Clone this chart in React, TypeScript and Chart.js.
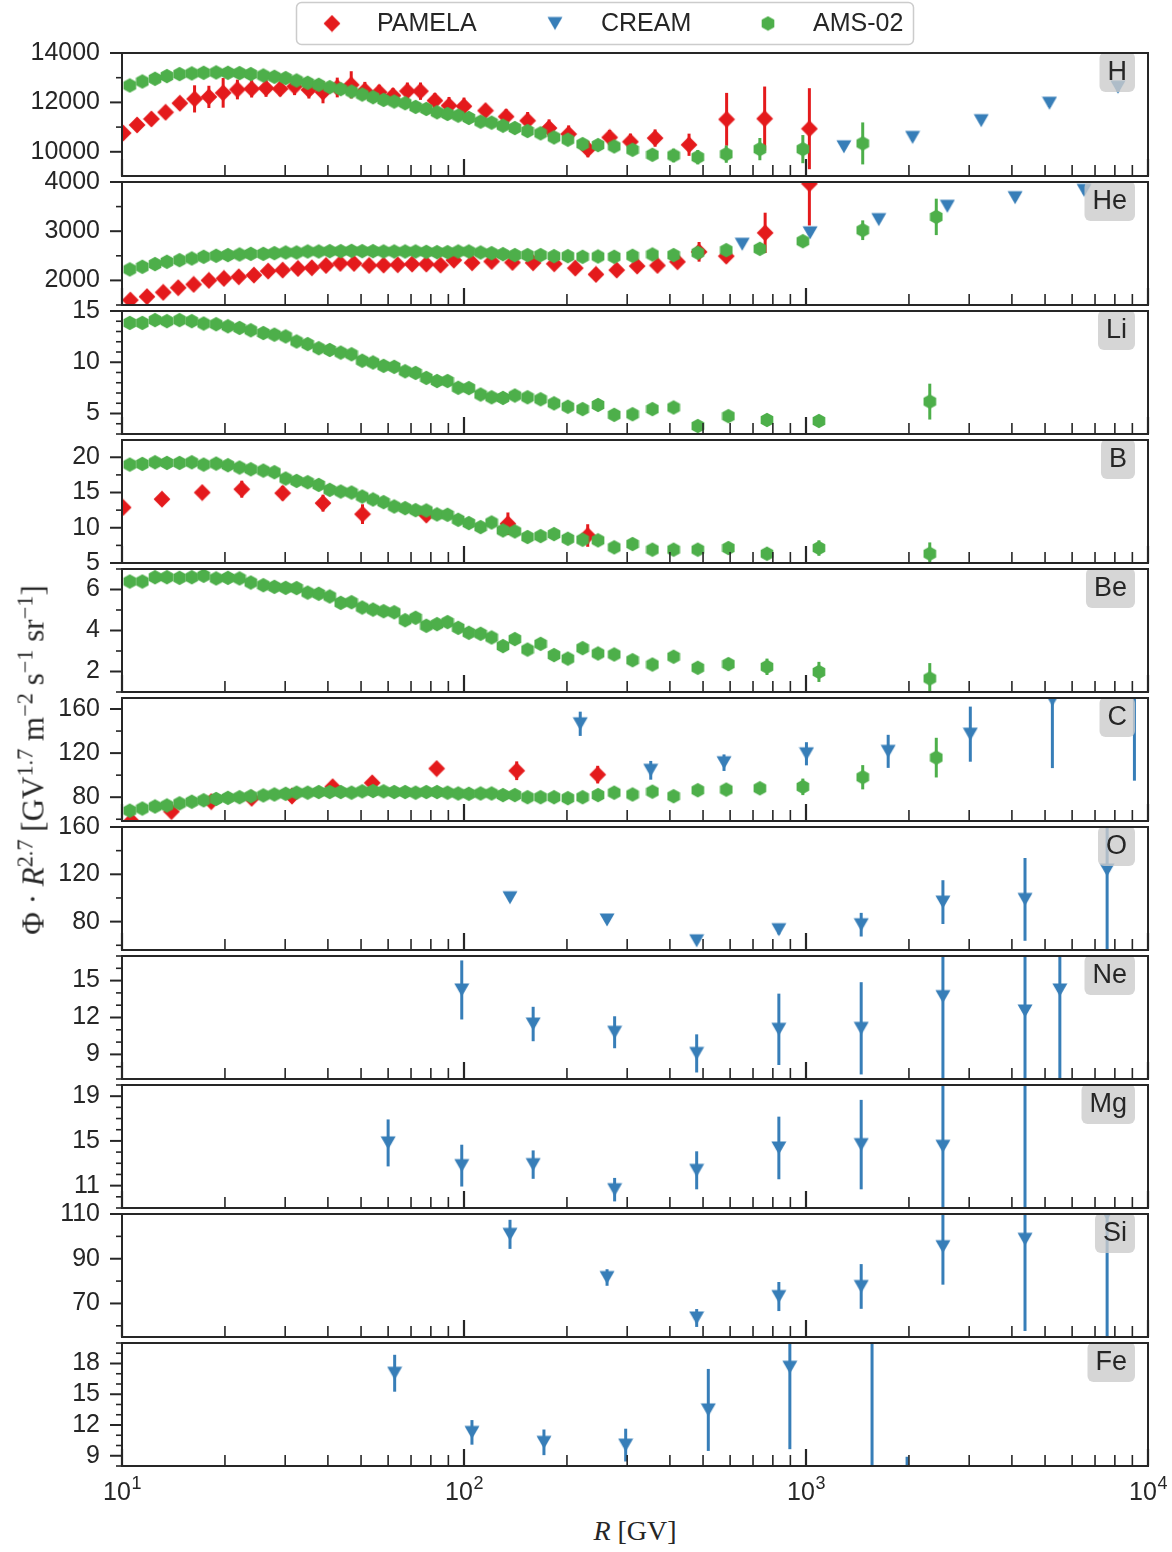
import React, { useEffect, useRef } from 'react';
import { Chart, registerables } from 'chart.js';

Chart.register(...registerables);

// ---------------- data ----------------
// rigidity grids (GV)
const AMS_R_P = [10.54, 11.47, 12.49, 13.53, 14.73, 16.0, 17.33, 18.85, 20.4, 22.06, 23.8, 25.9, 27.9, 30.1, 32.4, 34.9, 37.6, 40.5, 43.6, 46.9, 50.4, 54.2, 58.2, 62.5, 67.3, 72.2, 77.6, 83.4, 89.5, 96.2, 103.3, 111.8, 120.4, 130, 140.8, 153.4, 167.5, 183.3, 201.2, 222.2, 246.6, 274.9, 311, 355.6, 410, 482.6, 584.6, 733, 979, 1465];
const AMS_R_HE = [10.54, 11.47, 12.49, 13.53, 14.73, 16.0, 17.33, 18.85, 20.4, 22.06, 23.8, 25.9, 27.9, 30.1, 32.4, 34.9, 37.6, 40.5, 43.6, 46.9, 50.4, 54.2, 58.2, 62.5, 67.3, 72.2, 77.6, 83.4, 89.5, 96.2, 103.3, 111.8, 120.4, 130, 140.8, 153.4, 167.5, 183.3, 201.2, 222.2, 246.6, 274.9, 311, 355.6, 410, 482.6, 584.6, 733, 979, 1465, 2404];
const AMS_R_NUC = [10.54, 11.47, 12.49, 13.53, 14.73, 16.0, 17.33, 18.85, 20.4, 22.06, 23.8, 25.9, 27.9, 30.1, 32.4, 34.9, 37.6, 40.5, 43.6, 46.9, 50.4, 54.2, 58.2, 62.5, 67.3, 72.2, 77.6, 83.4, 89.5, 96.2, 103.3, 111.8, 120.4, 130, 140.8, 153.4, 167.5, 183.3, 201.2, 222.2, 246.6, 274.9, 311, 355.6, 410, 482.6, 593, 769, 1091, 2301];

// H
const H_AMS = [12685, 12847, 12956, 13064, 13146, 13173, 13200, 13214, 13200, 13186, 13146, 13091, 13037, 12983, 12888, 12793, 12712, 12617, 12535, 12440, 12318, 12210, 12102, 12034, 11966, 11817, 11735, 11600, 11532, 11464, 11369, 11220, 11180, 11057, 10962, 10840, 10746, 10583, 10488, 10312, 10271, 10217, 10081, 9878, 9851, 9783, 9905, 10108, 10108, 10339];
const H_AMS_ERR = [60, 60, 60, 60, 60, 60, 60, 60, 60, 60, 60, 60, 60, 60, 60, 60, 60, 60, 60, 60, 60, 60, 60, 60, 60, 60, 60, 60, 60, 60, 70, 70, 70, 80, 80, 80, 90, 90, 100, 100, 110, 120, 130, 150, 270, 290, 350, 450, 570, 850];
const H_PAM_R = [10.08, 11.07, 12.19, 13.41, 14.76, 16.3, 17.95, 19.76, 21.75, 23.94, 26.37, 29.0, 31.96, 35.2, 38.7, 42.6, 46.8, 51.3, 56.5, 62.0, 68.3, 74.6, 82.2, 90.4, 100, 115.6, 132.8, 153.5, 177.3, 202.3, 230.3, 266.6, 306.6, 362, 455, 586, 757, 1023];
const H_PAM = [10759, 11085, 11329, 11600, 11966, 12142, 12224, 12386, 12522, 12549, 12576, 12549, 12644, 12508, 12413, 12603, 12712, 12481, 12413, 12278, 12454, 12454, 12074, 11871, 11844, 11668, 11424, 11261, 10962, 10718, 10108, 10583, 10407, 10556, 10285, 11315, 11342, 10935];
const H_PAM_ERR = [150, 180, 200, 250, 250, 550, 450, 600, 400, 350, 350, 300, 350, 350, 450, 400, 550, 350, 300, 300, 350, 350, 300, 350, 350, 250, 300, 350, 350, 350, 330, 300, 330, 350, 450, 1070, 1300, 1640];
const H_CREAM_R = [1291, 2050, 3253, 5150, 8170];
const H_CREAM = [10203, 10583, 11261, 11966, 12617];
const H_CREAM_ERR = [100, 150, 100, 150, 200];

// He
const HE_AMS = [2223, 2277, 2331, 2378, 2412, 2446, 2480, 2500, 2514, 2527, 2540, 2540, 2554, 2568, 2568, 2588, 2588, 2595, 2595, 2601, 2595, 2595, 2588, 2588, 2588, 2588, 2581, 2574, 2574, 2588, 2588, 2568, 2554, 2534, 2514, 2514, 2514, 2493, 2493, 2480, 2486, 2480, 2500, 2527, 2514, 2561, 2615, 2642, 2797, 3020, 3291];
const HE_AMS_ERR = [15, 15, 15, 15, 15, 15, 15, 15, 15, 15, 15, 15, 15, 15, 15, 15, 15, 15, 15, 15, 15, 15, 15, 15, 15, 15, 15, 15, 15, 15, 15, 15, 15, 15, 15, 15, 15, 15, 15, 15, 15, 15, 15, 15, 25, 30, 40, 50, 70, 200, 370];
const HE_PAM_R = [10.58, 11.83, 13.2, 14.6, 16.2, 17.95, 19.86, 21.95, 24.3, 26.75, 29.5, 32.7, 35.9, 39.5, 43.5, 47.7, 52.8, 58.2, 64, 70.5, 77.6, 85.4, 93.4, 105.6, 120.4, 138.6, 159.2, 183.6, 211.5, 243.1, 279.6, 320.9, 367.8, 420.9, 486.8, 584.6, 759.5, 1023];
const HE_PAM = [1600, 1669, 1757, 1851, 1919, 2000, 2040, 2074, 2108, 2189, 2209, 2243, 2257, 2304, 2345, 2345, 2304, 2311, 2318, 2331, 2331, 2311, 2412, 2358, 2385, 2365, 2358, 2338, 2250, 2122, 2209, 2291, 2304, 2378, 2581, 2493, 2966, 3966];
const HE_PAM_ERR = [30, 30, 30, 30, 30, 30, 30, 30, 30, 30, 30, 30, 30, 30, 30, 30, 30, 30, 30, 30, 30, 30, 30, 30, 30, 30, 30, 30, 40, 45, 50, 55, 60, 70, 200, 130, 410, 850];
const HE_CREAM_R = [651, 1028, 1632, 2590, 4087, 6503];
const HE_CREAM = [2736, 2966, 3236, 3507, 3682, 3831];
const HE_CREAM_ERR = [40, 40, 40, 50, 60, 80];

// Li
const LI_AMS = [13.84, 13.84, 14.11, 14.01, 14.11, 14.01, 13.78, 13.71, 13.51, 13.35, 13.12, 12.85, 12.69, 12.52, 12.03, 11.77, 11.37, 11.2, 10.94, 10.78, 10.15, 9.98, 9.65, 9.55, 9.12, 8.96, 8.47, 8.17, 8.17, 7.51, 7.48, 6.85, 6.58, 6.52, 6.75, 6.58, 6.39, 5.99, 5.66, 5.43, 5.83, 4.87, 4.93, 5.43, 5.59, 3.78, 4.74, 4.37, 4.27, 6.16];
const LI_AMS_ERR = [0.1, 0.1, 0.1, 0.1, 0.1, 0.1, 0.1, 0.1, 0.1, 0.1, 0.1, 0.1, 0.1, 0.1, 0.1, 0.1, 0.1, 0.1, 0.1, 0.1, 0.1, 0.1, 0.1, 0.1, 0.1, 0.1, 0.1, 0.1, 0.1, 0.1, 0.1, 0.1, 0.1, 0.1, 0.1, 0.1, 0.1, 0.1, 0.1, 0.1, 0.1, 0.1, 0.1, 0.1, 0.1, 0.15, 0.2, 0.25, 0.3, 1.75];

// B
const B_AMS = [18.96, 19.06, 19.29, 19.2, 19.2, 19.29, 18.96, 19.1, 18.87, 18.54, 18.3, 18.11, 17.88, 16.98, 16.65, 16.46, 16.08, 15.38, 15.14, 15.0, 14.43, 14.01, 13.63, 13.02, 12.78, 12.5, 12.45, 11.89, 11.84, 11.13, 10.66, 10.09, 10.75, 9.62, 9.48, 8.68, 8.82, 9.1, 8.44, 8.3, 8.21, 7.22, 7.69, 6.89, 6.89, 6.89, 7.12, 6.32, 7.12, 6.32];
const B_AMS_ERR = [0.15, 0.15, 0.15, 0.15, 0.15, 0.15, 0.15, 0.15, 0.15, 0.15, 0.15, 0.15, 0.15, 0.15, 0.15, 0.15, 0.15, 0.15, 0.15, 0.15, 0.15, 0.15, 0.15, 0.15, 0.15, 0.15, 0.15, 0.15, 0.15, 0.15, 0.15, 0.15, 0.15, 0.15, 0.15, 0.15, 0.15, 0.15, 0.15, 0.15, 0.15, 0.15, 0.15, 0.2, 0.2, 0.25, 0.3, 0.4, 1.1, 1.6];
const B_PAM_R = [10.08, 13.09, 17.16, 22.4, 29.5, 38.7, 50.5, 77.6, 134.4, 230];
const B_PAM = [12.88, 14.06, 15.0, 15.47, 14.91, 13.49, 11.93, 11.8, 10.57, 8.9];
const B_PAM_ERR = [0.6, 0.5, 0.7, 1.2, 1.0, 1.2, 1.4, 0.5, 1.6, 1.6];

// Be
const BE_AMS = [6.39, 6.39, 6.6, 6.6, 6.57, 6.6, 6.67, 6.54, 6.57, 6.54, 6.34, 6.21, 6.13, 6.08, 6.07, 5.85, 5.79, 5.66, 5.35, 5.38, 5.12, 5.02, 4.94, 4.89, 4.5, 4.62, 4.23, 4.31, 4.41, 4.13, 3.89, 3.84, 3.66, 3.24, 3.58, 3.07, 3.35, 2.8, 2.63, 3.14, 2.88, 2.83, 2.55, 2.34, 2.72, 2.18, 2.36, 2.23, 1.98, 1.66];
const BE_AMS_ERR = [0.05, 0.05, 0.05, 0.05, 0.05, 0.05, 0.05, 0.05, 0.05, 0.05, 0.05, 0.05, 0.05, 0.05, 0.05, 0.05, 0.05, 0.05, 0.05, 0.05, 0.05, 0.05, 0.05, 0.05, 0.05, 0.05, 0.05, 0.05, 0.05, 0.05, 0.05, 0.05, 0.05, 0.05, 0.05, 0.05, 0.05, 0.05, 0.05, 0.05, 0.05, 0.05, 0.05, 0.05, 0.05, 0.1, 0.3, 0.4, 0.49, 0.75];

// C
const C_AMS = [67.8, 69.7, 71.6, 72.5, 74.4, 75.9, 77.2, 78.4, 79.4, 80, 80.9, 81.6, 82.5, 83.1, 84.1, 84.1, 84.7, 84.7, 84.7, 84.1, 85.3, 85.6, 85.3, 84.7, 84.7, 84.1, 84.7, 84.7, 84.1, 83.4, 83.1, 83.4, 83.4, 81.9, 81.9, 80, 80, 80, 79.1, 80, 81.9, 84.1, 82.5, 85, 80.9, 86.3, 86.9, 88.1, 89.4, 98.1, 115.9];
const C_AMS_ERR = [1, 1, 1, 1, 1, 1, 1, 1, 1, 1, 1, 1, 1, 1, 1, 1, 1, 1, 1, 1, 1, 1, 1, 1, 1, 1, 1, 1, 1, 1, 1, 1, 1, 1, 1, 1, 1, 1, 1, 1, 1, 1, 1, 1.5, 2, 2, 3, 4, 7.5, 11, 18];
const C_PAM_R = [10.65, 13.95, 18.24, 23.94, 31.4, 41.3, 53.9, 83.2, 142.6, 246];
const C_PAM = [58.5, 67, 76, 79, 81, 89.5, 93, 106, 104, 100.5];
const C_PAM_ERR = [3, 3, 3, 3, 3, 3, 4, 4, 8.5, 8];
const C_CREAM_R = [218.7, 351.6, 575.8, 1003, 1739, 3023, 5253, 9127];
const C_CREAM = [146.6, 104.4, 111.3, 119.4, 121.6, 137.2, 168.4, 180];
const C_CREAM_ERR = [11, 8.5, 7.5, 10.5, 15, 25, 62, 85];

// O / Si (CREAM)
const CREAM_R_OSI = [136.3, 262, 479, 833, 1450, 2514, 4369, 7594];
const O_CREAM = [100.2, 81.4, 63.8, 73.2, 77.4, 96.5, 98.8, 123.6];
const O_CREAM_ERR = [3, 2, 2, 4, 10, 18.5, 35, 70];
const SI_CREAM = [100.9, 81.6, 63.5, 73.1, 77.6, 95.4, 98.7, 110];
const SI_CREAM_ERR = [6.5, 3.7, 4, 6.5, 10, 17, 41, 58];

// Ne
const NE_CREAM_R = [98.5, 159.3, 275.7, 479, 833, 1450, 2514, 4369, 5524];
const NE_CREAM = [14.24, 11.47, 10.8, 9.08, 11.04, 11.12, 13.7, 12.53, 14.24];
const NE_CREAM_ERR = [2.4, 1.4, 1.3, 1.55, 2.9, 3.75, 7, 7.5, 7.5];

// Mg
const MG_CREAM_R = [60, 98.5, 159.3, 275.7, 479, 833, 1450, 2514, 4369];
const MG_CREAM = [14.82, 12.79, 12.88, 10.64, 12.37, 14.37, 14.67, 14.52, 21.5];
const MG_CREAM_ERR = [2.1, 1.87, 1.27, 1.05, 1.7, 2.8, 4, 5.5, 13];

// Fe
const FE_CREAM_R = [62.7, 105.5, 171.3, 297, 518, 897, 1560, 1975];
const FE_CREAM = [17.05, 11.28, 10.31, 10.04, 13.47, 17.64, 23, 6];
const FE_CREAM_ERR = [1.8, 1.2, 1.25, 1.6, 4, 8, 15, 2.9];

// axis ticks
const X_TICKS = [10, 20, 30, 40, 50, 60, 70, 80, 90, 100, 200, 300, 400, 500, 600, 700, 800, 900, 1000, 2000, 3000, 4000, 5000, 6000, 7000, 8000, 9000, 10000];
const DECADES = [10, 100, 1000, 10000];
const DECADE_BASE = '10';
const DECADE_EXPONENTS = ['1', '2', '3', '4'];
const LEGEND_LABELS = ['PAMELA', 'CREAM', 'AMS-02'];

// ---------------- styles / layout ----------------
const RED = '#e41a1c';
const BLUE = '#377eb8';
const GREEN = '#4daf4a';
const INK = '#262626';
const SANS = '"Liberation Sans", Arial, Helvetica, sans-serif';
const SERIF = '"Liberation Serif", "DejaVu Serif", "Times New Roman", serif';

const FIG_W = 1172;
const FIG_H = 1552;
const PLOT_LEFT = 122;
const PLOT_RIGHT = 1148;
const PANEL_TOPS = [53, 182, 311, 440, 569, 698, 827, 956, 1085, 1214, 1343];
const PANEL_H = 123;
const PAD = 24;
const XAXIS_H = 44;

type Src = 'PAMELA' | 'CREAM' | 'AMS-02';
type Series = { src: Src; r: number[]; v: number[]; e: number[] };
type PanelCfg = { name: string; min: number; max: number; major: number[]; minor: number[]; series: Series[] };

const PANELS: PanelCfg[] = [
  { name: 'H', min: 9020, max: 14000, major: [10000, 12000, 14000], minor: [11000, 13000], series: [
    { src: 'PAMELA', r: H_PAM_R, v: H_PAM, e: H_PAM_ERR },
    { src: 'CREAM', r: H_CREAM_R, v: H_CREAM, e: H_CREAM_ERR },
    { src: 'AMS-02', r: AMS_R_P, v: H_AMS, e: H_AMS_ERR },
  ] },
  { name: 'He', min: 1500, max: 4000, major: [2000, 3000, 4000], minor: [1500, 2500, 3500], series: [
    { src: 'PAMELA', r: HE_PAM_R, v: HE_PAM, e: HE_PAM_ERR },
    { src: 'CREAM', r: HE_CREAM_R, v: HE_CREAM, e: HE_CREAM_ERR },
    { src: 'AMS-02', r: AMS_R_HE, v: HE_AMS, e: HE_AMS_ERR },
  ] },
  { name: 'Li', min: 3, max: 15, major: [5, 10, 15], minor: [3, 4, 6, 7, 8, 9, 11, 12, 13, 14], series: [
    { src: 'AMS-02', r: AMS_R_NUC, v: LI_AMS, e: LI_AMS_ERR },
  ] },
  { name: 'B', min: 5, max: 22.45, major: [5, 10, 15, 20], minor: [7.5, 12.5, 17.5], series: [
    { src: 'PAMELA', r: B_PAM_R, v: B_PAM, e: B_PAM_ERR },
    { src: 'AMS-02', r: AMS_R_NUC, v: B_AMS, e: B_AMS_ERR },
  ] },
  { name: 'Be', min: 1, max: 7, major: [2, 4, 6], minor: [1, 3, 5, 7], series: [
    { src: 'AMS-02', r: AMS_R_NUC, v: BE_AMS, e: BE_AMS_ERR },
  ] },
  { name: 'C', min: 58.4, max: 170, major: [80, 120, 160], minor: [60, 100, 140], series: [
    { src: 'PAMELA', r: C_PAM_R, v: C_PAM, e: C_PAM_ERR },
    { src: 'CREAM', r: C_CREAM_R, v: C_CREAM, e: C_CREAM_ERR },
    { src: 'AMS-02', r: AMS_R_HE, v: C_AMS, e: C_AMS_ERR },
  ] },
  { name: 'O', min: 56, max: 160, major: [80, 120, 160], minor: [60, 100, 140], series: [
    { src: 'CREAM', r: CREAM_R_OSI, v: O_CREAM, e: O_CREAM_ERR },
  ] },
  { name: 'Ne', min: 7, max: 17, major: [9, 12, 15], minor: [7, 8, 10, 11, 13, 14, 16, 17], series: [
    { src: 'CREAM', r: NE_CREAM_R, v: NE_CREAM, e: NE_CREAM_ERR },
  ] },
  { name: 'Mg', min: 9, max: 20, major: [11, 15, 19], minor: [9, 10, 12, 13, 14, 16, 17, 18, 20], series: [
    { src: 'CREAM', r: MG_CREAM_R, v: MG_CREAM, e: MG_CREAM_ERR },
  ] },
  { name: 'Si', min: 55, max: 110, major: [70, 90, 110], minor: [60, 80, 100], series: [
    { src: 'CREAM', r: CREAM_R_OSI, v: SI_CREAM, e: SI_CREAM_ERR },
  ] },
  { name: 'Fe', min: 8, max: 20, major: [9, 12, 15, 18], minor: [8, 10, 11, 13, 14, 16, 17, 19, 20], series: [
    { src: 'CREAM', r: FE_CREAM_R, v: FE_CREAM, e: FE_CREAM_ERR },
  ] },
];

const SOURCES: Record<Src, { color: string; marker: 'D' | 'v' | 'h'; order: number }> = {
  'PAMELA': { color: RED, marker: 'D', order: 2 },
  'CREAM': { color: BLUE, marker: 'v', order: 1 },
  'AMS-02': { color: GREEN, marker: 'h', order: 0 },
};

// ---------------- markers ----------------
let markerCache: Record<string, HTMLCanvasElement> | null = null;
function getMarkers() {
  if (markerCache) return markerCache;
  const make = (w: number, h: number, color: string, draw: (c: CanvasRenderingContext2D) => void) => {
    const cv = document.createElement('canvas');
    cv.width = w; cv.height = h;
    const c = cv.getContext('2d')!;
    c.fillStyle = color;
    c.beginPath();
    draw(c);
    c.closePath();
    c.fill();
    return cv;
  };
  const D = make(18, 18, RED, (c) => { c.moveTo(9, 0.6); c.lineTo(17.4, 9); c.lineTo(9, 17.4); c.lineTo(0.6, 9); });
  const v = make(16, 16, BLUE, (c) => { c.moveTo(0.5, 1.5); c.lineTo(15.5, 1.5); c.lineTo(8, 14.5); });
  const h = make(14, 16, GREEN, (c) => {
    const r = 7.3;
    for (let k = 0; k < 6; k++) {
      const a = Math.PI / 2 + k * Math.PI / 3;
      const px = 7 + r * Math.cos(a), py = 8 - r * Math.sin(a);
      if (k === 0) c.moveTo(px, py); else c.lineTo(px, py);
    }
  });
  markerCache = { D, v, h };
  return markerCache;
}

// ---------------- plugins ----------------
const errorBarPlugin = {
  id: 'errorBars',
  beforeDatasetDraw(chart: any, args: any) {
    const ds = chart.data.datasets[args.index];
    if (!ds.errors) return;
    const ca = chart.chartArea;
    const ys = chart.scales.y;
    const ctx = chart.ctx as CanvasRenderingContext2D;
    ctx.save();
    ctx.beginPath();
    ctx.rect(ca.left, ca.top, ca.right - ca.left, ca.bottom - ca.top);
    ctx.clip();
    ctx.strokeStyle = ds.errorColor;
    ctx.lineWidth = 3;
    args.meta.data.forEach((pt: any, i: number) => {
      const d = ds.data[i];
      const e = ds.errors[i];
      ctx.beginPath();
      ctx.moveTo(pt.x, ys.getPixelForValue(d.y - e));
      ctx.lineTo(pt.x, ys.getPixelForValue(d.y + e));
      ctx.stroke();
    });
    ctx.restore();
  },
};

function makeFramePlugin(cfg: PanelCfg, isBottom: boolean) {
  return {
    id: 'frame',
    afterDatasetsDraw(chart: any) {
      const ctx = chart.ctx as CanvasRenderingContext2D;
      const ca = chart.chartArea;
      const xs = chart.scales.x;
      const ys = chart.scales.y;
      ctx.save();
      // element label box
      ctx.font = `27px ${SANS}`;
      const tw = ctx.measureText(cfg.name).width;
      const bw = tw + 16, bh = 40;
      const bx = ca.right - 13 - bw, by = ca.top - 1;
      ctx.fillStyle = 'rgba(204,204,204,0.8)';
      ctx.beginPath();
      (ctx as any).roundRect(bx, by, bw, bh, 6);
      ctx.fill();
      ctx.fillStyle = INK;
      ctx.textAlign = 'center';
      ctx.textBaseline = 'middle';
      ctx.fillText(cfg.name, bx + bw / 2, by + bh / 2 + 1);
      // ticks
      ctx.strokeStyle = INK;
      xs.ticks.forEach((t: any) => {
        const px = xs.getPixelForValue(t.value);
        const big = DECADES.includes(t.value);
        ctx.lineWidth = big ? 2.2 : 1.6;
        ctx.beginPath();
        ctx.moveTo(px, ca.bottom);
        ctx.lineTo(px, ca.bottom - (big ? 17 : 11));
        ctx.stroke();
      });
      ys.ticks.forEach((t: any) => {
        const py = ys.getPixelForValue(t.value);
        const big = cfg.major.includes(t.value);
        ctx.lineWidth = big ? 2 : 1.6;
        ctx.beginPath();
        ctx.moveTo(ca.left, py);
        ctx.lineTo(ca.left - (big ? 12 : 6), py);
        ctx.stroke();
      });
      ctx.lineWidth = 2;
      ctx.strokeRect(ca.left, ca.top, ca.right - ca.left, ca.bottom - ca.top);
      // decade labels with superscript exponents (bottom panel only)
      if (isBottom) {
        ctx.fillStyle = INK;
        ctx.textAlign = 'left';
        ctx.textBaseline = 'alphabetic';
        DECADES.forEach((d, k) => {
          const px = xs.getPixelForValue(d);
          ctx.font = `25px ${SANS}`;
          const wb = ctx.measureText(DECADE_BASE).width;
          ctx.font = `18px ${SANS}`;
          const we = ctx.measureText(DECADE_EXPONENTS[k]).width;
          const x0 = px - (wb + we) / 2;
          ctx.font = `25px ${SANS}`;
          ctx.fillText(DECADE_BASE, x0, ca.bottom + 34);
          ctx.font = `18px ${SANS}`;
          ctx.fillText(DECADE_EXPONENTS[k], x0 + wb + 0.5, ca.bottom + 22.5);
        });
      }
      ctx.restore();
    },
  };
}

const legendPlugin = {
  id: 'figLegend',
  afterDraw(chart: any) {
    const ctx = chart.ctx as CanvasRenderingContext2D;
    const mx = [332, 555, 768];
    const tx = [377, 601, 813];
    ctx.save();
    ctx.beginPath();
    (ctx as any).roundRect(296.5, 2.5, 617, 42, 5);
    ctx.fillStyle = 'rgba(255,255,255,0.8)';
    ctx.fill();
    ctx.strokeStyle = '#cccccc';
    ctx.lineWidth = 1.5;
    ctx.stroke();
    ctx.font = `25px ${SANS}`;
    ctx.textBaseline = 'middle';
    ctx.textAlign = 'left';
    LEGEND_LABELS.forEach((lab, i) => {
      const ds = chart.data.datasets.find((d: any) => d.label === lab);
      if (!ds) return;
      const img = ds.pointStyle as HTMLCanvasElement;
      ctx.drawImage(img, mx[i] - img.width / 2, 23.5 - img.height / 2);
      ctx.fillStyle = INK;
      ctx.fillText(lab, tx[i], 24.5);
    });
    ctx.restore();
  },
};

// ---------------- components ----------------
function Panel({ cfg, index }: { cfg: PanelCfg; index: number }) {
  const ref = useRef<HTMLCanvasElement>(null);
  const isTop = index === 0;
  const isBottom = index === PANELS.length - 1;
  const padT = isTop ? PANEL_TOPS[0] : PAD;
  const padB = isBottom ? 4 : PAD;
  const canvasTop = PANEL_TOPS[index] - padT;
  const canvasH = padT + PANEL_H + padB + (isBottom ? XAXIS_H : 0);

  useEffect(() => {
    const mk = getMarkers();
    const datasets = cfg.series.map((s) => {
      const st = SOURCES[s.src];
      return {
        label: s.src,
        data: s.r.map((r, i) => ({ x: r, y: s.v[i] })),
        errors: s.e,
        errorColor: st.color,
        pointStyle: mk[st.marker],
        pointRadius: 8,
        pointHoverRadius: 8,
        showLine: false,
        order: st.order,
        clip: 0,
        backgroundColor: st.color,
        borderColor: st.color,
        borderWidth: 0,
      };
    });
    const yTicks = [...cfg.major, ...cfg.minor].sort((a, b) => a - b);
    const chart = new Chart(ref.current!, {
      type: 'scatter',
      data: { datasets } as any,
      options: {
        animation: false,
        responsive: false,
        events: [],
        layout: { padding: { left: 0, right: FIG_W - PLOT_RIGHT, top: padT, bottom: padB } },
        plugins: { legend: { display: false }, tooltip: { enabled: false } },
        scales: {
          x: {
            type: 'logarithmic',
            position: 'bottom',
            min: 10,
            max: 10000,
            grid: { display: false, drawTicks: false },
            border: { display: false },
            ticks: { display: false, autoSkip: false },
            afterBuildTicks: (s: any) => { s.ticks = X_TICKS.map((v) => ({ value: v })); },
            afterFit: (s: any) => { s.height = isBottom ? XAXIS_H : 0; s.paddingLeft = 0; s.paddingRight = 0; },
          },
          y: {
            type: 'linear',
            min: cfg.min,
            max: cfg.max,
            grid: { display: false, drawTicks: false },
            border: { display: false },
            ticks: {
              autoSkip: false,
              padding: 22,
              color: INK,
              font: { family: SANS, size: 25 },
              callback: (v: any) => (cfg.major.includes(Number(v)) ? String(v) : ''),
            },
            afterBuildTicks: (s: any) => { s.ticks = yTicks.map((v) => ({ value: v })); },
            afterFit: (s: any) => { s.width = PLOT_LEFT; s.paddingTop = 0; s.paddingBottom = 0; },
          },
        },
      } as any,
      plugins: [errorBarPlugin, makeFramePlugin(cfg, isBottom), ...(isTop ? [legendPlugin] : [])] as any,
    });
    return () => chart.destroy();
  }, []);

  return (
    <canvas
      ref={ref}
      width={FIG_W}
      height={canvasH}
      style={{ position: 'absolute', left: 0, top: canvasTop, width: FIG_W, height: canvasH }}
    />
  );
}

const supStyle: React.CSSProperties = { fontSize: '0.72em', verticalAlign: '0.5em', lineHeight: 0 };

export default function App() {
  return (
    <div style={{ position: 'absolute', left: 0, top: 0, width: FIG_W, height: FIG_H, background: '#ffffff', overflow: 'hidden' }}>
      {PANELS.map((p, i) => (
        <Panel key={p.name} cfg={p} index={i} />
      ))}
      <div
        style={{
          position: 'absolute', left: 33, top: 760,
          transform: 'translate(-50%, -50%) rotate(-90deg)',
          whiteSpace: 'nowrap', fontFamily: SERIF, fontSize: 31, color: INK, lineHeight: 1,
        }}
      >
        Φ · <i>R</i><span style={supStyle}>2.7</span> [GV<span style={supStyle}>1.7</span> m<span style={supStyle}>−2</span> s<span style={supStyle}>−1</span> sr<span style={supStyle}>−1</span>]
      </div>
      <div
        style={{
          position: 'absolute', left: 635, top: 1531,
          transform: 'translate(-50%, -50%)',
          whiteSpace: 'nowrap', fontFamily: SERIF, fontSize: 28, color: INK, lineHeight: 1,
        }}
      >
        <i>R</i> [GV]
      </div>
    </div>
  );
}
